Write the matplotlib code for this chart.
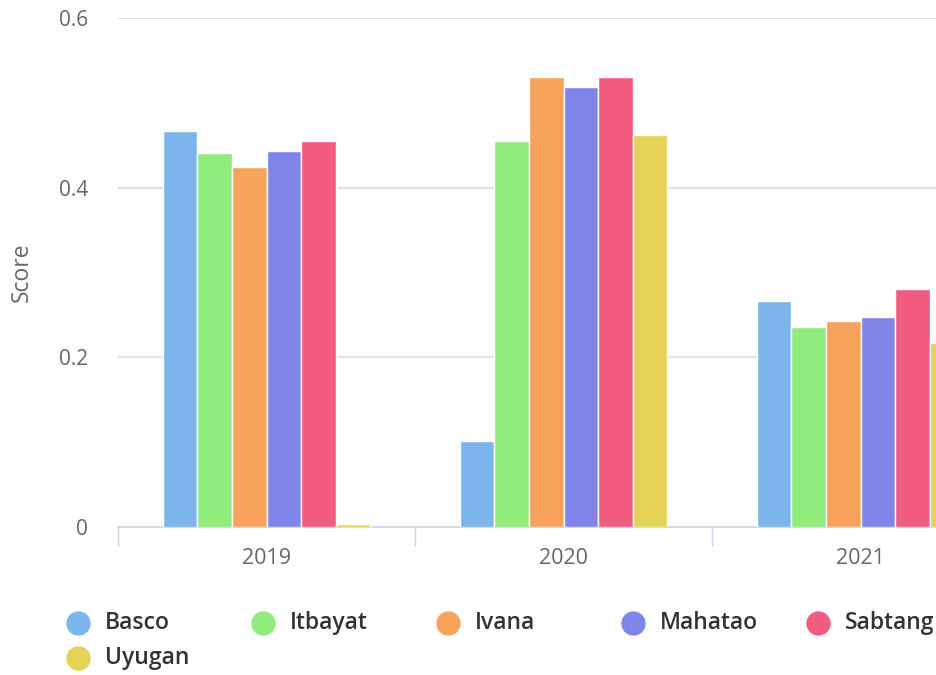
import numpy as np
import matplotlib
matplotlib.use("Agg")
import matplotlib.pyplot as plt
from matplotlib.lines import Line2D

years = ["2019", "2020", "2021"]
towns = ["Basco", "Itbayat", "Ivana", "Mahatao", "Sabtang", "Uyugan"]
colors = ["#7cb5ec", "#90ed7d", "#f7a35c", "#8085e9", "#f15c80", "#e4d354"]

basco = [0.467, 0.101, 0.266]
itbayat = [0.441, 0.455, 0.236]
ivana = [0.424, 0.530, 0.243]
mahatao = [0.443, 0.519, 0.248]
sabtang = [0.455, 0.530, 0.281]
uyugan = [0.003, 0.462, 0.217]
series = [basco, itbayat, ivana, mahatao, sabtang, uyugan]

plt.rcParams['font.family'] = ['Open Sans', 'DejaVu Sans']

fig = plt.figure(figsize=(9.36, 6.75), dpi=100)
# plot area runs past the right edge, like the cropped original
ax = fig.add_axes([118 / 936, 1 - 527 / 675, 891 / 936, 509 / 675])

x = np.arange(len(years))
slot = 0.1167
for i, (name, vals) in enumerate(zip(towns, series)):
    off = (i - 2.5) * slot
    ax.bar(x + off, vals, width=slot, color=colors[i], edgecolor="white",
           linewidth=1, zorder=3)

ax.set_xlim(-0.5, 2.5)
ax.set_ylim(0, 0.6)
ax.set_yticks([0, 0.2, 0.4, 0.6])
ax.set_yticklabels(["0", "0.2", "0.4", "0.6"])
ax.grid(axis="y", color="#e3e3e3", linewidth=1.6, zorder=0)
ax.set_xticks(x)
ax.set_xticklabels(years)
ax.set_xticks([-0.5, 0.5, 1.5], minor=True)
ax.tick_params(axis="x", which="major", length=0, pad=15, labelsize=15.5,
               labelcolor="#666666")
ax.tick_params(axis="x", which="minor", length=14, width=1, color="#ccd6eb")
ax.tick_params(axis="y", length=0, pad=21.5, labelsize=15, labelcolor="#666666")
for s in ["top", "right", "left"]:
    ax.spines[s].set_visible(False)
ax.spines["bottom"].set_color("#ccd6eb")
ax.spines["bottom"].set_linewidth(1.2)
ax.set_ylabel("Score", fontsize=16.5, color="#666666")
ax.yaxis.set_label_coords(-0.095, 0.5)

# legend
for i, name in enumerate(towns):
    col, row = i % 5, i // 5
    cx = (78 + col * 185) / 936
    cy = 1 - (623 + row * 35) / 675
    fig.add_artist(Line2D([cx], [cy], marker="o", markersize=16.5,
                          color=colors[i], linestyle="none",
                          transform=fig.transFigure))
    fig.text(cx + 27 / 936, cy, name, fontsize=16.5, fontweight="semibold",
             color="#333333", va="center", ha="left")

fig.savefig("out.png", dpi=100)
